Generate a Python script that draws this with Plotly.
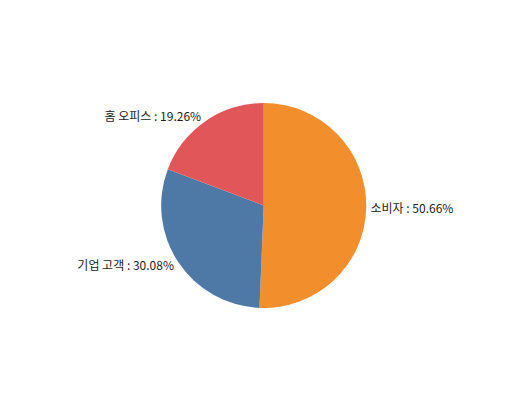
import plotly.graph_objects as go

labels = ['소비자', '기업 고객', '홈 오피스']
values = [50.66, 30.08, 19.26]
colors = ['#f28e2b', '#4e79a7', '#e15759']

fig = go.Figure(go.Pie(
    labels=labels,
    values=values,
    sort=False,
    direction='clockwise',
    rotation=0,
    marker=dict(colors=colors, line=dict(width=0)),
    textposition='outside',
    texttemplate='%{label} : %{percent:.2%}',
    textfont=dict(family='Noto Sans CJK KR', size=12, color='#222222'),
    hoverinfo='label+percent',
    domain=dict(x=[0.0, 0.74], y=[0.27, 0.769]),
))

fig.update_layout(
    width=515, height=411,
    margin=dict(l=0, r=0, t=0, b=0),
    showlegend=False,
    paper_bgcolor='white',
)

fig.write_html('out.html')
